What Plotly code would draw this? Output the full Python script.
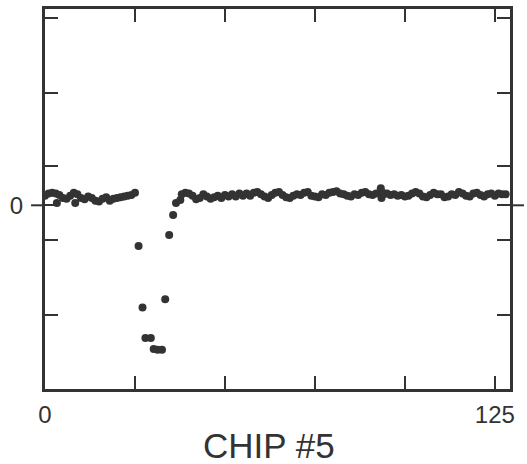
import plotly.graph_objects as go

# left baseline, chip positions 0..25
left_x = list(range(0, 26))
left_y = [0.13, 0.16, 0.17, 0.16, 0.14, 0.10, 0.09, 0.13, 0.17, 0.15,
          0.10, 0.08, 0.12, 0.10, 0.06, 0.05, 0.09, 0.11, 0.06, 0.09,
          0.10, 0.11, 0.12, 0.13, 0.14, 0.17]

# two stray points just under the left baseline
stray_x = [3.3, 8.4]
stray_y = [0.03, 0.03]

# the dip
dip_x = [26.0, 27.1, 27.9, 29.4, 30.2, 31.3, 32.5, 33.4, 34.5, 35.6, 36.4, 37.6]
dip_y = [-0.55, -1.38, -1.79, -1.79, -1.94, -1.95, -1.95, -1.27, -0.40, -0.13, 0.03, 0.07]

# right baseline, 38..92
mid_x = list(range(38, 93))
mid_y = [0.15, 0.17, 0.16, 0.13, 0.08, 0.10, 0.15, 0.12, 0.09, 0.11,
         0.13, 0.10, 0.14, 0.12, 0.15, 0.12, 0.16, 0.13, 0.16, 0.13,
         0.17, 0.18, 0.15, 0.12, 0.10, 0.14, 0.17, 0.18, 0.14, 0.11,
         0.10, 0.13, 0.15, 0.14, 0.17, 0.18, 0.13, 0.12, 0.11, 0.15,
         0.14, 0.17, 0.18, 0.19, 0.16, 0.15, 0.13, 0.12, 0.15, 0.14,
         0.17, 0.18, 0.15, 0.14, 0.16]

# little curl near 93
curl_x = [93.3, 93.8, 93.5]
curl_y = [0.23, 0.17, 0.10]

# right baseline, 94..128
end_x = list(range(94, 129))
end_y = [0.15, 0.16, 0.14, 0.15, 0.13, 0.14, 0.12, 0.13, 0.16, 0.18,
         0.16, 0.12, 0.11, 0.14, 0.17, 0.15, 0.15, 0.11, 0.12, 0.15,
         0.14, 0.18, 0.16, 0.13, 0.12, 0.16, 0.17, 0.14, 0.12, 0.15,
         0.16, 0.13, 0.16, 0.15, 0.15]

x_ticks = [0, 25, 50, 75, 100, 125]
x_labels = ["0", "", "", "", "", "125"]
y_ticks = [2.53, 1.52, 0.53, 0, -0.47, -1.48]
y_labels = ["", "", "", "0", "", ""]

ink = "#333333"
font = "Liberation Sans, Arial, sans-serif"

xs = left_x + stray_x + dip_x + mid_x + curl_x + end_x
ys = left_y + stray_y + dip_y + mid_y + curl_y + end_y

fig = go.Figure()
fig.add_trace(go.Scatter(x=xs, y=ys, mode="markers",
                         marker=dict(size=8, color=ink), hoverinfo="skip"))

fig.update_layout(
    width=527, height=464,
    margin=dict(l=45, r=17, t=9, b=75),
    paper_bgcolor="white", plot_bgcolor="white",
    showlegend=False,
    font=dict(family=font, color=ink, size=24),
)
fig.update_xaxes(range=[0, 129.2], showgrid=False, zeroline=False, automargin=False,
                 showline=True, linewidth=3, linecolor=ink, mirror="ticks",
                 ticks="inside", ticklen=13, tickwidth=2, tickcolor=ink,
                 tickvals=x_ticks, ticktext=x_labels, ticklabelstandoff=2)
fig.update_yaxes(range=[-2.48, 2.65], showgrid=False, zeroline=False, automargin=False,
                 showline=True, linewidth=3, linecolor=ink, mirror="ticks",
                 ticks="inside", ticklen=13, tickwidth=2, tickcolor=ink,
                 tickvals=y_ticks, ticktext=y_labels, ticklabelstandoff=14)

# zero tick sticks out of the frame on both sides
for x0, x1 in [(-0.03, 0), (1, 1.03)]:
    fig.add_shape(type="line", xref="paper", yref="y", x0=x0, x1=x1, y0=0, y1=0,
                  line=dict(color=ink, width=2))

fig.add_annotation(text="CHIP #5", xref="paper", yref="paper", x=0.482, y=0,
                   yshift=-56, yanchor="middle", showarrow=False,
                   font=dict(size=35, family=font, color=ink))

# drop the default 8px page margin so the figure sits at the window corner
fig.write_html("out.html", config={"displayModeBar": False},
               post_script="document.body.style.margin = '0';")
